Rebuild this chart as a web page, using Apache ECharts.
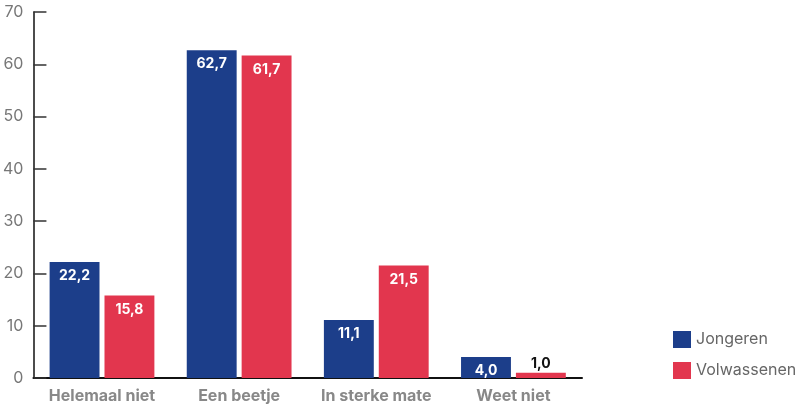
<!DOCTYPE html>
<html><head><meta charset="utf-8">
<script src="https://cdn.jsdelivr.net/npm/echarts@6/dist/echarts.min.js"></script>
<style>html,body{margin:0;padding:0;background:#fff}#c{width:798px;height:405px}</style>
</head><body><div id="c"></div>
<script>
const categories = ['Helemaal niet', 'Een beetje', 'In sterke mate', 'Weet niet'];
const jongeren = [22.2, 62.7, 11.1, 4.0];
const volwassenen = [15.8, 61.7, 21.5, 1.0];
const yTicks = [0, 10, 20, 30, 40, 50, 60, 70];

const fmt = v => v.toFixed(1).replace('.', ',');
function mk(vals) {
  return vals.map(v => v < 3 ? {value: v, label: {position: 'top', color: '#111', distance: 2}} : v);
}
const lbl = {show: true, position: 'insideTop', distance: 7, color: '#fff', fontFamily: 'Inter', fontWeight: 'bold', fontSize: 14,
  formatter: p => fmt(p.value)};

const chart = echarts.init(document.getElementById('c'));
chart.setOption({
  animation: false,
  textStyle: {fontFamily: 'Inter'},
  grid: {left: 32, right: 216, top: 12, bottom: 27},
  legend: {orient: 'vertical', left: 668, top: 326, itemWidth: 18, itemHeight: 17, itemGap: 14,
    icon: 'rect', textStyle: {color: '#666', fontSize: 16, fontFamily: 'Inter'}},
  xAxis: {type: 'category', data: categories,
    axisLine: {lineStyle: {color: '#111', width: 2}},
    axisTick: {inside: true, length: 9, lineStyle: {color: '#333', width: 1.5}},
    axisLabel: {interval: 0, hideOverlap: false, color: '#888', fontWeight: 'bold', fontSize: 16, margin: 10, fontFamily: 'Inter'}},
  yAxis: {type: 'value', min: 0, max: 70, interval: 10,
    axisLine: {show: true, lineStyle: {color: '#111', width: 1.5}},
    axisTick: {show: true, inside: true, length: 13, lineStyle: {color: '#333', width: 1.5}},
    splitLine: {show: false},
    axisLabel: {color: '#777', fontSize: 16, margin: 10, fontFamily: 'Inter',
      formatter: v => yTicks.includes(v) ? String(v) : ''}},
  series: [
    {name: 'Jongeren', type: 'bar', data: mk(jongeren), itemStyle: {color: '#1c3e8a'},
      barGap: '10%', barCategoryGap: '23.6%', label: lbl},
    {name: 'Volwassenen', type: 'bar', data: mk(volwassenen), itemStyle: {color: '#e2364e'}, label: lbl}
  ]
});
</script></body></html>
